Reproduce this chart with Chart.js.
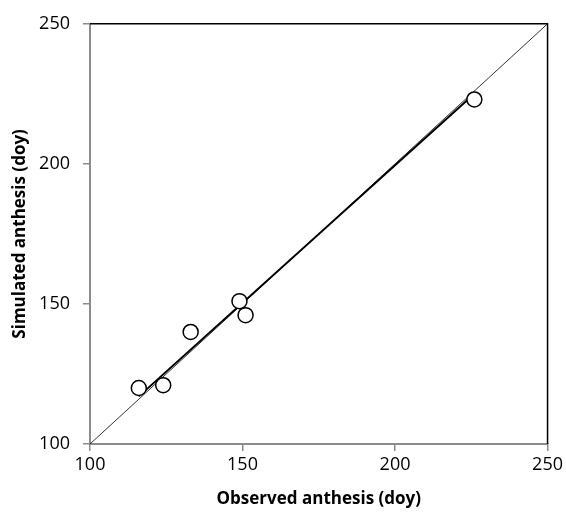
<!DOCTYPE html>
<html>
<head>
<meta charset="utf-8">
<script src="https://cdn.jsdelivr.net/npm/chart.js@4.4.1/dist/chart.umd.min.js"></script>
<style>
    html, body { margin: 0; padding: 0; background: #ffffff; }
    #contenedor { width: 566px; height: 513px; }
</style>
</head>
<body>
<div id="contenedor"><canvas id="grafico-antesis"></canvas></div>
<script>
// Fecha de antesis (día del año): observada vs simulada
const observado = [116, 124, 133, 149, 151, 226];
const simulado = [120, 121, 140, 151, 146, 223];

// Recta de ajuste (extremos)
const ajusteX = [116, 226];
const ajusteY = [117, 225];

// Línea 1:1
const lineaX = [100, 250];
const lineaY = [100, 250];

const marcasEje = [100, 150, 200, 250];

const fuente = "'Open Sans', 'Liberation Sans', sans-serif";
const gris = '#8c8c8c';

const aPuntos = (xs, ys) => xs.map((x, i) => ({ x: x, y: ys[i] }));

// Marco superior y derecho en negro
const marcoNegro = {
    id: 'marcoNegro',
    afterDatasetsDraw(chart) {
        const { ctx, chartArea: a } = chart;
        ctx.save();
        ctx.strokeStyle = '#000000';
        ctx.lineWidth = 1.5;
        ctx.beginPath();
        ctx.moveTo(a.left, a.top);
        ctx.lineTo(a.right, a.top);
        ctx.lineTo(a.right, a.bottom);
        ctx.stroke();
        ctx.restore();
    }
};

document.addEventListener("DOMContentLoaded", () => {
    const ctx = document.getElementById('grafico-antesis');
    new Chart(ctx, {
        type: 'scatter',
        data: {
            datasets: [
                {
                    label: 'Antesis',
                    data: aPuntos(observado, simulado),
                    backgroundColor: '#ffffff',
                    borderColor: '#000000',
                    borderWidth: 1.5,
                    pointRadius: 7.5,
                    pointHoverRadius: 7.5
                },
                {
                    label: 'Ajuste',
                    data: aPuntos(ajusteX, ajusteY),
                    showLine: true,
                    borderColor: '#000000',
                    borderWidth: 2,
                    pointRadius: 0
                },
                {
                    label: '1:1',
                    data: aPuntos(lineaX, lineaY),
                    showLine: true,
                    borderColor: '#000000',
                    borderWidth: 0.8,
                    pointRadius: 0
                }
            ]
        },
        options: {
            responsive: true,
            maintainAspectRatio: false,
            animation: false,
            layout: { padding: { top: 21, right: 16, left: 6, bottom: 0 } },
            plugins: {
                legend: { display: false },
                tooltip: { enabled: false }
            },
            scales: {
                x: {
                    type: 'linear',
                    min: 100,
                    max: 250,
                    afterBuildTicks: (eje) => { eje.ticks = marcasEje.map(v => ({ value: v })); },
                    afterFit: (eje) => { eje.height = 69; },
                    grid: { drawOnChartArea: false, drawTicks: true, tickLength: 7, color: gris, lineWidth: 1.5 },
                    border: { display: true, color: gris, width: 2 },
                    ticks: { color: '#000000', padding: 3, font: { family: fuente, size: 18 } },
                    title: {
                        display: true,
                        text: 'Observed anthesis (doy)',
                        color: '#000000',
                        padding: { top: 4 },
                        font: { family: fuente, size: 17, weight: 'bold' }
                    }
                },
                y: {
                    type: 'linear',
                    min: 100,
                    max: 250,
                    afterBuildTicks: (eje) => { eje.ticks = marcasEje.map(v => ({ value: v })); },
                    afterFit: (eje) => { eje.width = 84; },
                    grid: { drawOnChartArea: false, drawTicks: true, tickLength: 7, color: gris, lineWidth: 1.5 },
                    border: { display: true, color: gris, width: 2 },
                    ticks: { color: '#000000', padding: 13, font: { family: fuente, size: 18 } },
                    title: {
                        display: true,
                        text: 'Simulated anthesis (doy)',
                        color: '#000000',
                        padding: { bottom: 0 },
                        font: { family: fuente, size: 17, weight: 'bold' }
                    }
                }
            }
        },
        plugins: [marcoNegro]
    });
});
</script>
</body>
</html>
